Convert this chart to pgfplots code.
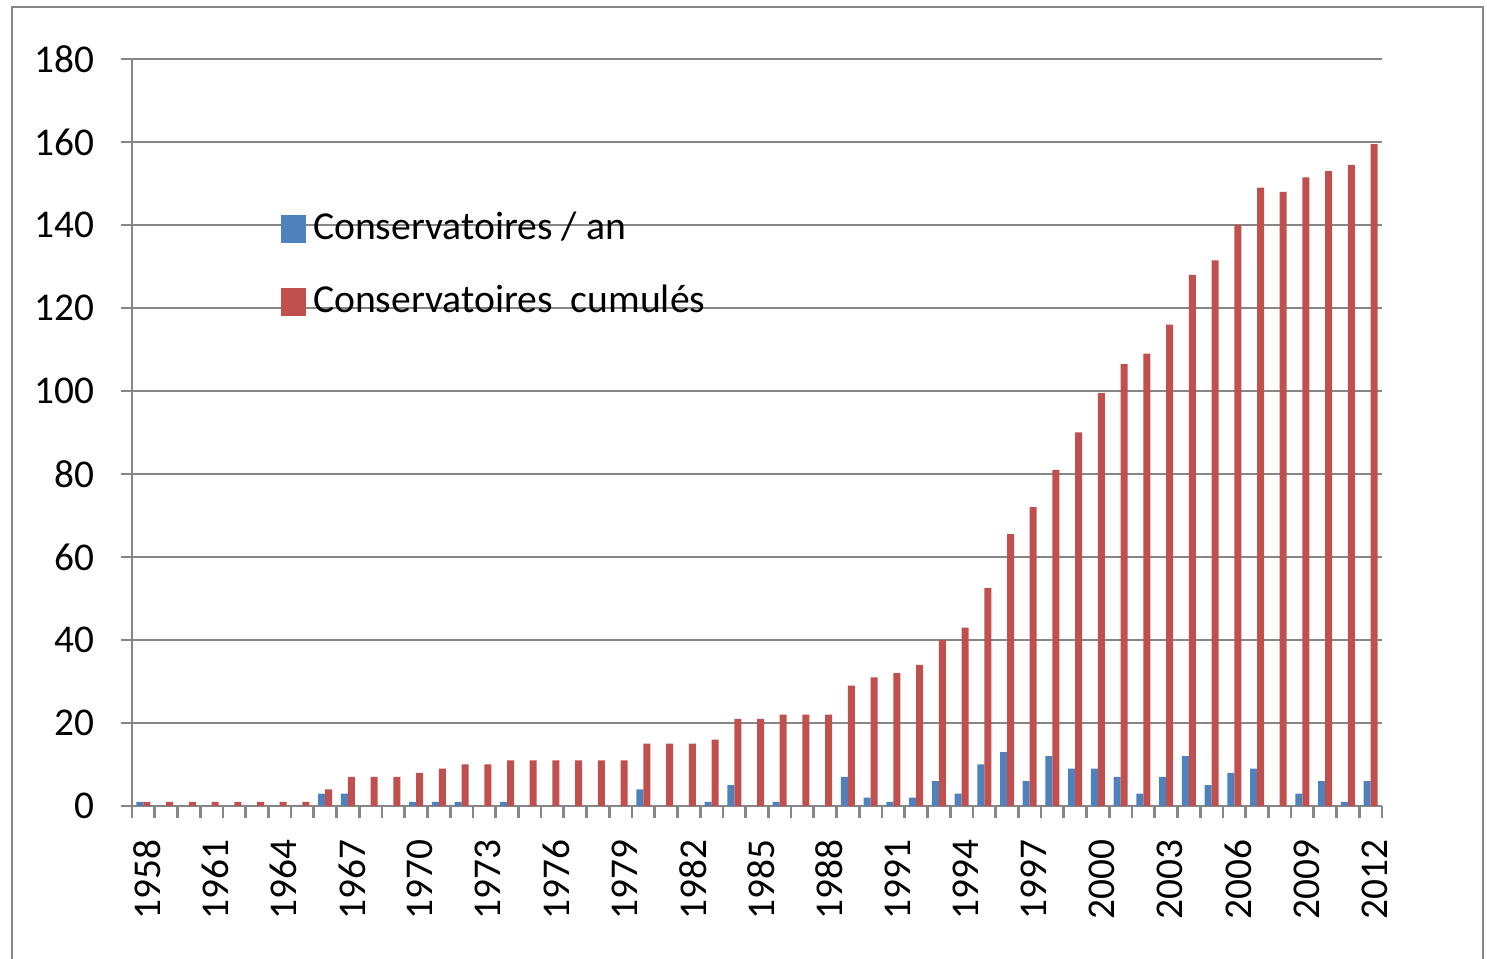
\documentclass[border=0pt]{standalone}
\usepackage{fontspec}
\setmainfont{Carlito}
\usepackage{pgfplots}
\pgfplotsset{compat=1.18}
\usepackage{pgfplotstable}
\definecolor{xlblue}{HTML}{4F81BD}
\definecolor{xlred}{HTML}{C0504D}
\definecolor{xlgray}{HTML}{868686}
\pgfplotstableread{
i b r
0 1 1
1 0 1
2 0 1
3 0 1
4 0 1
5 0 1
6 0 1
7 0 1
8 3 4
9 3 7
10 0 7
11 0 7
12 1 8
13 1 9
14 1 10
15 0 10
16 1 11
17 0 11
18 0 11
19 0 11
20 0 11
21 0 11
22 4 15
23 0 15
24 0 15
25 1 16
26 5 21
27 0 21
28 1 22
29 0 22
30 0 22
31 7 29
32 2 31
33 1 32
34 2 34
35 6 40
36 3 43
37 10 52.5
38 13 65.5
39 6 72
40 12 81
41 9 90
42 9 99.5
43 7 106.5
44 3 109
45 7 116
46 12 128
47 5 131.5
48 8 140
49 9 149
50 0 148
51 3 151.5
52 6 153
53 1 154.5
54 6 159.5
}\data
\begin{document}
\begin{tikzpicture}
\useasboundingbox (0,0) rectangle (446.1bp,287.7bp);
\draw[xlgray, line width=0.6bp] (3.6bp,-5bp) -- (3.6bp,285.6bp) -- (444.9bp,285.6bp) -- (444.9bp,-5bp);
\begin{axis}[
  at={(39.6bp,45.9bp)}, anchor=south west,
  scale only axis, width=375bp, height=224.1bp,
  ybar=0pt, bar width=2.1bp,
  xmin=-0.5, xmax=54.5, ymin=0, ymax=180,
  axis x line*=bottom, axis y line*=left,
  axis line style={xlgray, line width=0.8bp, -},
  ytick={0,20,...,180},
  ymajorgrids, grid style={xlgray, line width=0.8bp},
  xtick={0,3,...,54},
  xticklabels={1958,1961,1964,1967,1970,1973,1976,1979,1982,1985,1988,1991,1994,1997,2000,2003,2006,2009,2012},
  minor xtick={-0.5,0.5,...,54.5},
  tick align=outside,
  major x tick style={draw=none},
  minor x tick style={xlgray, line width=0.8bp},
  major y tick style={xlgray, line width=0.8bp},
  major tick length=3.4bp, minor tick length=3.6bp,
  /pgf/number format/assume math mode=true,
  tick label style={font=\fontsize{11.8bp}{13bp}\selectfont, inner sep=0pt},
  xticklabel style={xshift=1.2bp, rotate=90, anchor=east},
  xticklabel shift=6.6bp,
  yticklabel style={anchor=east},
  yticklabel shift=7.8bp,
  legend image code/.code={\fill[#1] (0bp,-4.2bp) rectangle (7.5bp,4.2bp); \path (9.6bp,0bp);},
  legend style={at={(rel axis cs:0.1108,0.8066)}, anchor=north west, draw=none, fill=none,
    font=\fontsize{11.9bp}{13bp}\selectfont, row sep=10.9bp,
    nodes={inner sep=0pt, text height=8.5bp, text depth=2.5bp}},
  legend cell align=left,
]
\addplot[fill=xlblue, draw=none] table[x=i, y=b]{\data};
\addplot[fill=xlred, draw=none] table[x=i, y=r]{\data};
\legend{Conservatoires / an, Conservatoires\ \ cumulés}
\end{axis}
\end{tikzpicture}
\end{document}
